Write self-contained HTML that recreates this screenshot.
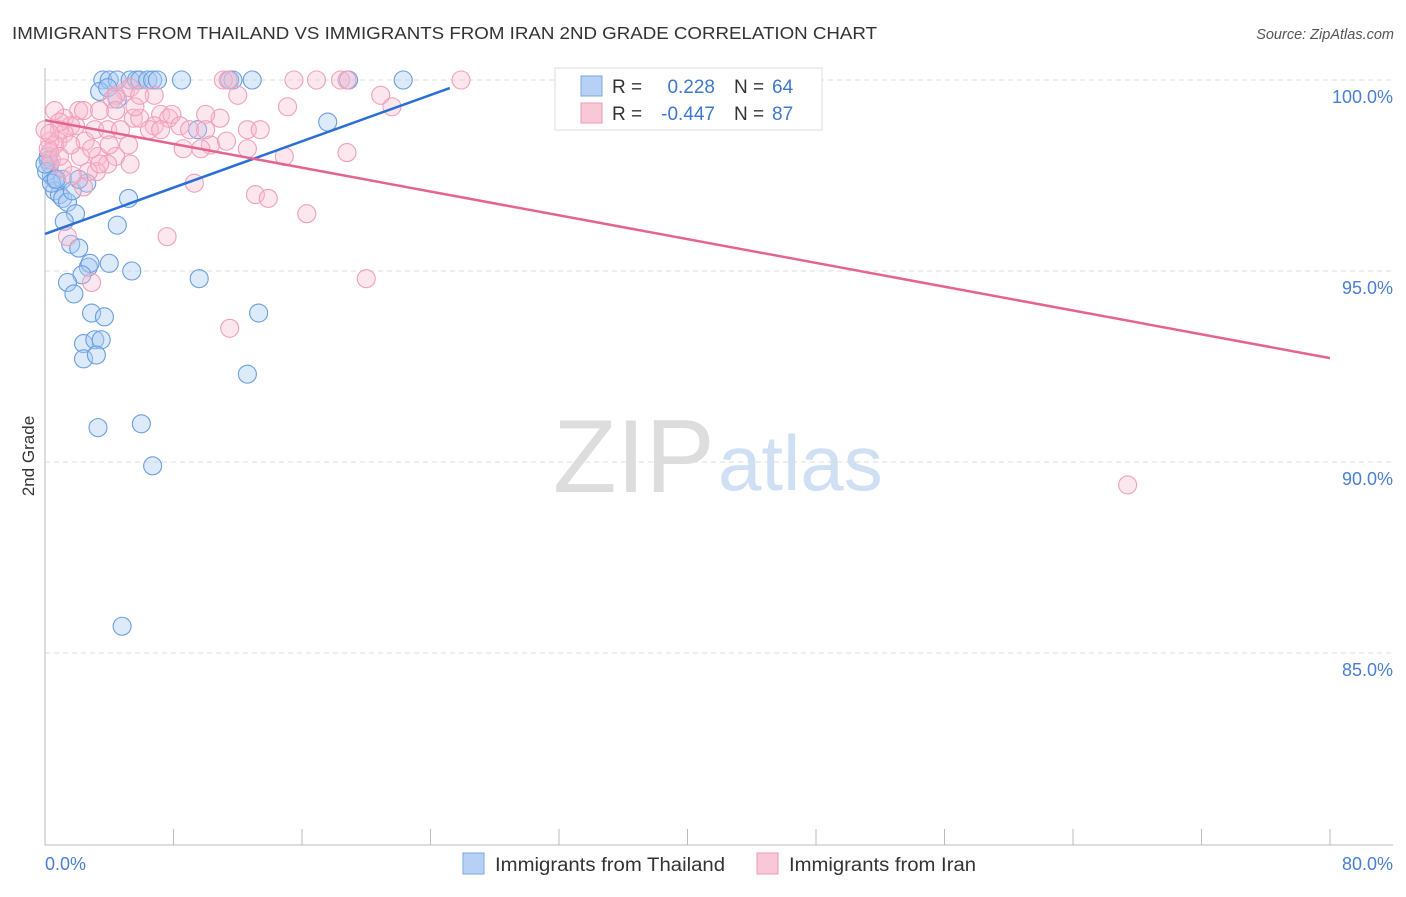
<!DOCTYPE html>
<html><head><meta charset="utf-8"><style>
body{margin:0;background:#fff;font-family:"Liberation Sans",sans-serif;}
svg text{font-family:"Liberation Sans",sans-serif;}
</style></head><body>
<svg width="1406" height="892" xmlns="http://www.w3.org/2000/svg">
<text x="12" y="39" font-size="17.5" fill="#333" textLength="865" lengthAdjust="spacingAndGlyphs">IMMIGRANTS FROM THAILAND VS IMMIGRANTS FROM IRAN 2ND GRADE CORRELATION CHART</text>
<text x="1394" y="39" font-size="14.5" fill="#555" text-anchor="end" font-style="italic">Source: ZipAtlas.com</text>
<text x="553" y="492" font-size="104" fill="#ddd" font-family="Liberation Serif">ZIP</text>
<text x="718" y="490" font-size="78" fill="#cfe0f4">atlas</text>
<g id="grid"></g>
<g id="axes"></g>
<g id="pts"></g>
<g id="lines"></g>
<text transform="translate(34,456) rotate(-90)" font-size="17" fill="#333" text-anchor="middle">2nd Grade</text>
<text x="45" y="870" font-size="18" fill="#4a7fd4">0.0%</text>
<text x="1393" y="870" font-size="18" fill="#4a7fd4" text-anchor="end">80.0%</text>
<g>
<rect x="555" y="68" width="267" height="62" fill="#fff" stroke="#ddd"/>
<rect x="581" y="76" width="21" height="20" fill="#b6d1f4" stroke="#7aa6e2"/>
<rect x="581" y="103" width="21" height="20" fill="#f9c8d6" stroke="#ee9ab4"/>
<text x="612" y="93" font-size="19" fill="#333">R =</text>
<text x="715" y="93" font-size="19" fill="#3e78d0" text-anchor="end">0.228</text>
<text x="734" y="93" font-size="19" fill="#333">N =</text>
<text x="772" y="93" font-size="19" fill="#3e78d0">64</text>
<text x="612" y="120" font-size="19" fill="#333">R =</text>
<text x="715" y="120" font-size="19" fill="#3e78d0" text-anchor="end">-0.447</text>
<text x="734" y="120" font-size="19" fill="#333">N =</text>
<text x="772" y="120" font-size="19" fill="#3e78d0">87</text>
</g>
<g>
<rect x="463" y="853" width="21" height="21" fill="#b6d1f4" stroke="#7aa6e2"/>
<text x="495" y="871" font-size="19" fill="#333" textLength="230" lengthAdjust="spacingAndGlyphs">Immigrants from Thailand</text>
<rect x="757" y="853" width="21" height="21" fill="#f9c8d6" stroke="#ee9ab4"/>
<text x="789" y="871" font-size="19" fill="#333" textLength="187" lengthAdjust="spacingAndGlyphs">Immigrants from Iran</text>
</g>
</svg>
<script>
const yTicks=[100,95,90,85];
const yTickLabels=["100.0%","95.0%","90.0%","85.0%"];
const xTicks=[0,8,16,24,32,40,48,56,64,72,80];
const blueX=[3.6,4.0,4.5,5.3,5.7,5.9,6.4,6.7,7.0,8.5,11.5,11.7,12.9,18.9,22.3,3.4,4.5,3.9,0.2,0.3,0.4,0.6,0.6,0.9,1.1,1.4,1.9,1.1,1.7,2.6,2.1,1.2,4.5,5.2,9.5,17.6,1.6,2.1,2.7,2.8,2.3,4.0,5.4,9.6,1.4,1.8,2.9,3.7,13.3,2.4,3.1,3.5,2.4,3.2,12.6,3.3,6.0,6.7,4.8,0.2,0.1,0.4,0.7,0];
const blueY=[100,100,100,100,100,100,100,100,100,100,100,100,100,100,100,99.7,99.5,99.8,97.9,97.8,97.5,97.4,97.1,97.0,96.9,96.8,96.5,97.4,97.1,97.3,97.4,96.3,96.2,96.9,98.7,98.9,95.7,95.6,95.1,95.2,94.9,95.2,95.0,94.8,94.7,94.4,93.9,93.8,93.9,93.1,93.2,93.2,92.7,92.8,92.3,90.9,91.0,89.9,85.7,98.0,97.6,97.3,97.4,97.8];
const pinkX=[11.1,11.4,15.5,16.9,18.4,18.8,25.9,12.0,20.9,21.6,15.1,12.6,13.4,10.9,10.0,6.8,5.0,5.3,4.4,4.2,2.1,2.4,3.4,4.4,5.5,5.9,7.2,7.7,7.9,8.4,9.0,6.8,6.5,1.2,1.6,1.9,0.9,1.2,0.8,0.3,0.6,2.5,3.1,3.9,4.7,5.2,8.6,10.3,11.3,12.6,14.9,18.8,2.2,3.3,4.4,3.9,5.3,3.2,2.7,2.4,0.3,0.4,0.2,9.3,13.1,13.9,16.3,7.6,1.4,2.9,11.5,20.0,67.4,1.1,1.7,3.4,0.6,0.9,0,5.6,7.2,10.0,5.9,1.6,4.0,2.9,0.9,0.3,9.7];
const pinkY=[100,100,100,100,100,100,100,99.6,99.6,99.3,99.3,98.7,98.7,99.0,99.1,99.6,99.7,99.8,99.6,99.5,99.2,99.2,99.2,99.2,99.0,99.0,99.1,99.0,99.1,98.8,98.7,98.8,98.7,99.0,98.8,98.8,98.7,98.6,98.4,98.4,98.3,98.4,98.7,98.7,98.7,98.3,98.2,98.3,98.4,98.2,98.0,98.1,98.0,98.0,98.0,97.8,97.8,97.6,97.6,97.2,98.1,97.9,98.2,97.3,97.0,96.9,96.5,95.9,95.9,94.7,93.5,94.8,89.4,97.7,97.5,97.8,99.2,98.9,98.7,99.3,98.7,98.7,99.6,98.3,98.3,98.2,98.0,98.6,98.2];
const blueTrend=[[0,95.97],[25.2,99.79]];
const pinkTrend=[[0,98.95],[80,92.72]];
const sx=v=>45+v*(1285/80);
const sy=v=>80+(100-v)*38.2;
const NS="http://www.w3.org/2000/svg";
function mk(tag,attrs,parent){const e=document.createElementNS(NS,tag);for(const k in attrs)e.setAttribute(k,attrs[k]);document.getElementById(parent).appendChild(e);return e;}
yTicks.forEach((t,i)=>{
 const l=mk('line',{x1:45,x2:1393,y1:sy(t),y2:sy(t),stroke:'#ddd','stroke-dasharray':'5,4'},'grid');
 
 
 const tx=mk('text',{x:1393,y:sy(t)+23,'font-size':18,fill:'#4a7fd4','text-anchor':'end'},'grid');
 tx.textContent=yTickLabels[i];
 
 
});
const ax=mk('line',{x1:45,x2:1393,y1:845,y2:845,stroke:'#bbb'},'axes');


const ay=mk('line',{x1:45,x2:45,y1:68,y2:845,stroke:'#bbb'},'axes');


xTicks.forEach(t=>{
 const l=mk('line',{x1:sx(t),x2:sx(t),y1:829,y2:845,stroke:'#bbb'},'axes');
 
 
});
blueX.forEach((x,i)=>{
 const c=mk('circle',{cx:sx(x),cy:sy(blueY[i]),r:9,fill:'rgba(170,202,242,0.4)',stroke:'#6a9ee0','stroke-width':1.1},'pts');
 
 
});
pinkX.forEach((x,i)=>{
 const c=mk('circle',{cx:sx(x),cy:sy(pinkY[i]),r:9,fill:'rgba(248,185,205,0.35)',stroke:'#f0a0ba','stroke-width':1.1},'pts');
 
 
});
const bl=mk('line',{x1:sx(blueTrend[0][0]),y1:sy(blueTrend[0][1]),x2:sx(blueTrend[1][0]),y2:sy(blueTrend[1][1]),stroke:'#2a6fd6','stroke-width':2.5},'lines');


const pl=mk('line',{x1:sx(pinkTrend[0][0]),y1:sy(pinkTrend[0][1]),x2:sx(pinkTrend[1][0]),y2:sy(pinkTrend[1][1]),stroke:'#e5648f','stroke-width':2.5},'lines');


</script>
</body></html>
